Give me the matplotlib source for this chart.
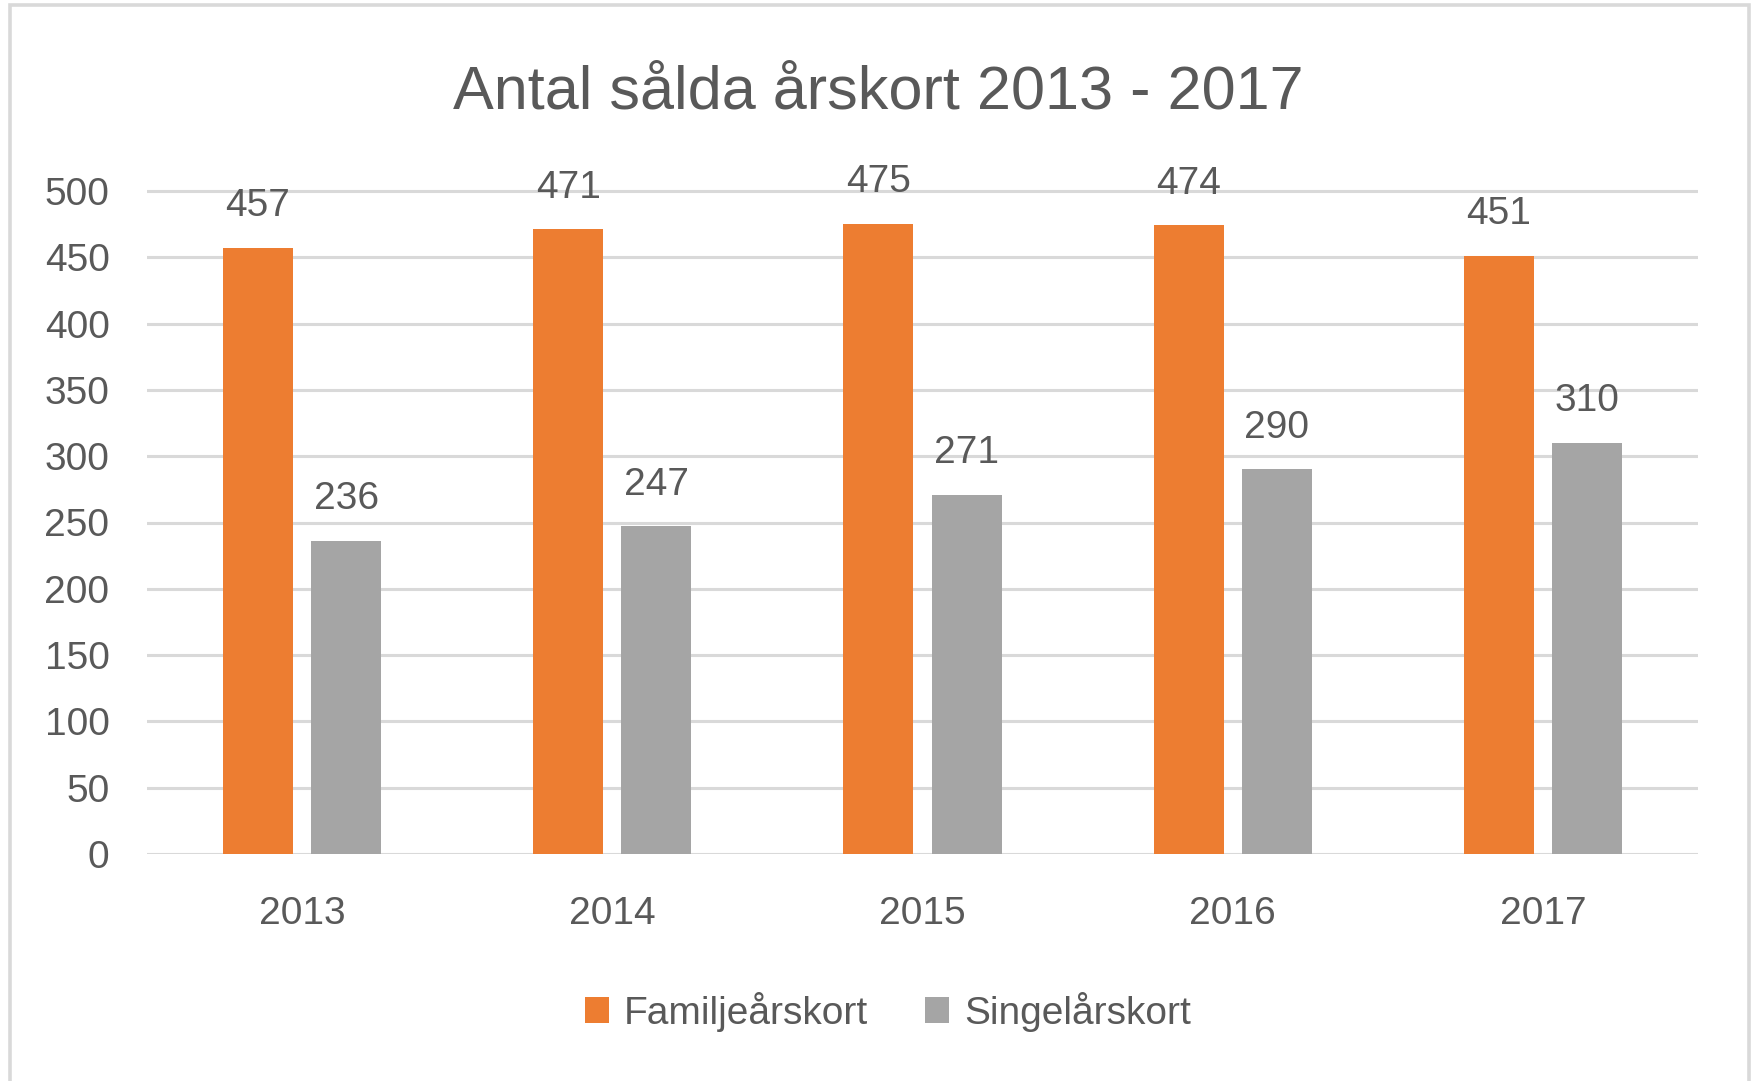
import matplotlib
matplotlib.use("Agg")
import matplotlib.pyplot as plt
from matplotlib.patches import Rectangle, Patch
import numpy as np

years = ["2013", "2014", "2015", "2016", "2017"]
familj = [457, 471, 475, 474, 451]
singel = [236, 247, 271, 290, 310]
series_names = ["Familjeårskort", "Singelårskort"]
yticks = [0, 50, 100, 150, 200, 250, 300, 350, 400, 450, 500]
title = "Antal sålda årskort 2013 - 2017"

ORANGE = "#ED7D31"
GRAY = "#A5A5A5"
TXT = "#595959"
GRID = "#D9D9D9"

plt.rcParams['font.family'] = ['Liberation Sans', 'DejaVu Sans']

W, H = 1757, 1081
fig = plt.figure(figsize=(W / 100, H / 100), dpi=100)
fig.patch.set_facecolor("white")

# outer chart border
fig.add_artist(Rectangle((10 / W, -0.01), (1749 - 10) / W, 1 - 5 / H + 0.01,
                         transform=fig.transFigure, fill=False,
                         edgecolor=GRID, linewidth=2.6))

left, right = 147 / W, 1698 / W
bottom = 1 - 854 / H
top = 1 - 162 / H
ax = fig.add_axes([left, bottom, right - left, top - bottom])
ymax = 500 * (854 - 162) / (854 - 191)
ax.set_ylim(0, ymax)
ax.set_xlim(-0.5, len(years) - 0.5)

for y in yticks:
    ax.axhline(y, color=GRID, linewidth=2.2, zorder=0)

x = np.arange(len(years))
bw = 0.2257
off = 0.142
b1 = ax.bar(x - off, familj, width=bw, color=ORANGE, zorder=2, label=series_names[0])
b2 = ax.bar(x + off, singel, width=bw, color=GRAY, zorder=2, label=series_names[1])

for bars, vals in ((b1, familj), (b2, singel)):
    for r, v in zip(bars, vals):
        t = ax.annotate(str(v), xy=(r.get_x() + r.get_width() / 2, v),
                        xytext=(0, 23), textcoords="offset points",
                        ha="center", va="baseline", fontsize=28, color=TXT)
        t.set_clip_on(True)
        t.set_clip_box(ax.bbox)

ax.set_yticks(yticks)
ax.set_yticklabels([str(t) for t in yticks])
ax.set_xticks(x)
ax.set_xticklabels(years)
ax.tick_params(axis="y", length=0, pad=27, labelsize=28, labelcolor=TXT)
ax.tick_params(axis="x", length=0, pad=30, labelsize=28, labelcolor=TXT)
for s in ax.spines.values():
    s.set_visible(False)
ax.set_facecolor("none")

fig.text(878 / W, 1 - 93 / H, title, ha="center", va="center",
         fontsize=44, color=TXT)

handles = [Patch(facecolor=ORANGE, edgecolor="none"), Patch(facecolor=GRAY, edgecolor="none")]
leg = fig.legend(handles, series_names, loc="center", bbox_to_anchor=(888 / W, 1 - 1012 / H),
                 ncol=2, frameon=False, fontsize=28, handlelength=0.6, handleheight=0.65,
                 handletextpad=0.39, columnspacing=1.47, labelcolor=TXT)

fig.savefig("out.png", dpi=100, facecolor="white")
